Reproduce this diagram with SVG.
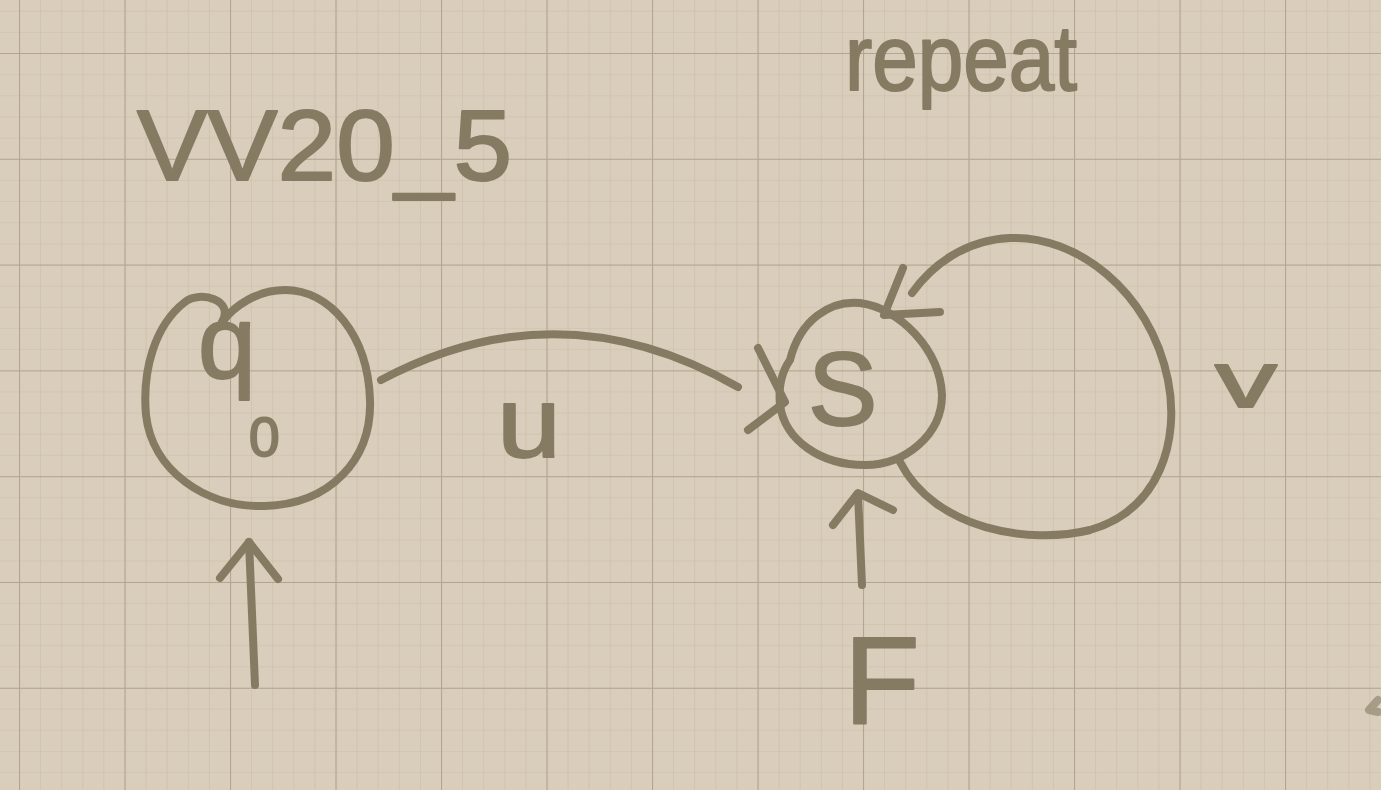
<svg xmlns="http://www.w3.org/2000/svg" width="1381" height="790" viewBox="0 0 1381 790">
  <defs>
    <pattern id="minor" patternUnits="userSpaceOnUse" x="19" y="53" width="21.1" height="21.15">
      <path d="M0 0 H21.1 M0 0 V21.15" fill="none" stroke="#cbbda8" stroke-width="1.2"/>
    </pattern>
    <pattern id="major" patternUnits="userSpaceOnUse" x="19" y="53" width="105.5" height="105.8">
      <path d="M0 0 H105.5 M0 0 V105.8" fill="none" stroke="#b3a58f" stroke-width="2.2"/>
    </pattern>
    <style>
      .ink { fill: none; stroke: #857b63; stroke-width: 8; stroke-linecap: round; stroke-linejoin: round; }
      .txt { font-family: "Liberation Sans", Arial, sans-serif; fill: #857b63; stroke: #857b63; stroke-width: 2; stroke-linejoin: round; }
    </style>
  </defs>

  <rect width="1381" height="790" fill="#d9cdbb"/>
  <rect width="1381" height="790" fill="url(#minor)"/>
  <rect width="1381" height="790" fill="url(#major)"/>

  <g id="title">
    <text class="txt" x="137" y="180" font-size="100" textLength="375" lengthAdjust="spacingAndGlyphs">VV20_5</text>
  </g>
  <g id="repeat-label">
    <text class="txt" x="845" y="90" font-size="92" textLength="232" lengthAdjust="spacingAndGlyphs">repeat</text>
  </g>

  <g id="node-q0">
    <path class="ink" d="M 222 322 C 235 300, 200 290, 185 302 C 155 325, 142 370, 146 415 C 152 470, 205 508, 265 506 C 330 504, 372 460, 370 400 C 368 335, 330 290, 285 290 C 258 290, 235 305, 222 322"/>
    <text class="txt" x="198" y="378" font-size="104">q<tspan x="249" y="456" font-size="55">0</tspan></text>
  </g>

  <g id="node-S">
    <path class="ink" d="M 790 360 C 800 320, 830 300, 860 303 C 900 308, 940 350, 942 395 C 942 435, 905 465, 865 465 C 820 465, 785 440, 780 405 C 778 385, 783 370, 790 360 Z"/>
    <text class="txt" x="808" y="425" font-size="104">S</text>
  </g>

  <g id="connectors">
    <!-- initial arrow into q0 -->
    <path class="ink" d="M 255 685 L 249 542"/>
    <path class="ink" d="M 220 578 L 249 542 L 278 579"/>
    <!-- q0 -> S labelled u -->
    <path class="ink" d="M 381 380 Q 560 285 738 387"/>
    <path class="ink" d="M 758 348 L 785 402 L 748 430"/>
    <!-- self loop on S labelled v -->
    <path class="ink" d="M 900 462 C 935 530, 1030 545, 1090 530 C 1160 510, 1180 440, 1168 380 C 1150 290, 1075 235, 1010 238 C 965 240, 932 265, 912 293"/>
    <path class="ink" d="M 903 268 L 884 315 L 940 312"/>
    <!-- F arrow into S -->
    <path class="ink" d="M 862 585 L 858 494"/>
    <path class="ink" d="M 833 525 L 858 493 L 893 510"/>
  </g>

  <g id="edge-labels">
    <text class="txt" x="497" y="457" font-size="100" textLength="64" lengthAdjust="spacingAndGlyphs">u</text>
    <text class="txt" x="1215" y="407" font-size="80" textLength="62" lengthAdjust="spacingAndGlyphs">v</text>
    <text class="txt" x="844" y="724" font-size="124">F</text>
  </g>

  <path class="ink" d="M 1378 700 L 1369 710 L 1378 712" stroke-width="3" opacity="0.6"/>
</svg>
